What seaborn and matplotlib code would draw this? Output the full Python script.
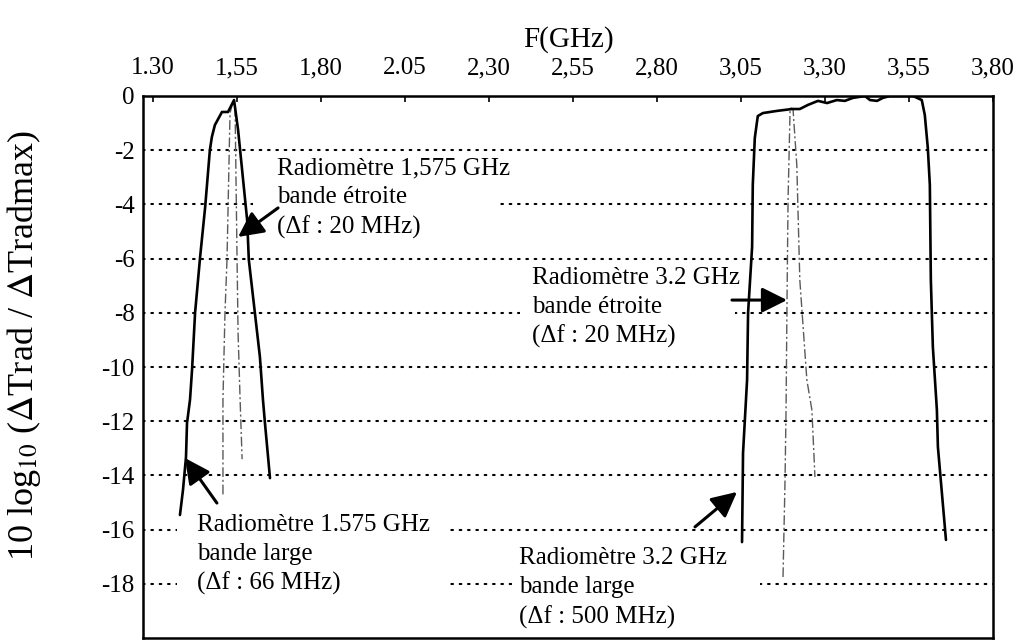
import matplotlib
matplotlib.use("Agg")
import matplotlib.pyplot as plt
from matplotlib.patches import Rectangle
import seaborn as sns

# Frequency axis (top) ticks and printed labels
freq_ticks = [1.30, 1.55, 1.80, 2.05, 2.30, 2.55, 2.80, 3.05, 3.30, 3.55, 3.80]
freq_tick_labels = ["1.30", "1,55", "1,80", "2.05", "2,30", "2,55",
                    "2,80", "3,05", "3,30", "3,55", "3,80"]

# Normalised level axis ticks (dB)
level_ticks = [0, -2, -4, -6, -8, -10, -12, -14, -16, -18, -20]
level_tick_labels = ["0", "-2", "-4", "-6", "-8", "-10", "-12", "-14", "-16", "-18", ""]

# 1.575 GHz radiometer, wide band (66 MHz)
l_wide_freq = [1.380, 1.389, 1.398, 1.401, 1.410, 1.416, 1.425, 1.440, 1.455, 1.469,
               1.475, 1.484, 1.505, 1.523, 1.541, 1.553, 1.568, 1.580, 1.585, 1.603,
               1.618, 1.627, 1.633, 1.648]
l_wide_db = [-15.46, -14.54, -13.32, -12.07, -11.2, -10.1, -8.0, -5.94, -4.1, -2.0,
             -1.51, -1.07, -0.59, -0.59, -0.15, -1.25, -3.1, -4.58, -6.05, -8.0,
             -9.63, -11.2, -12.07, -14.1]

# 1.575 GHz radiometer, narrow band (20 MHz)
l_narrow_freq = [1.508, 1.508, 1.514, 1.520, 1.529, 1.538, 1.544, 1.550, 1.553, 1.559, 1.565]
l_narrow_db = [-14.7, -11.2, -8.0, -6.05, -0.63, -0.2, -0.41, -6.05, -8.75, -11.2, -13.4]

# 3.2 GHz radiometer, wide band (500 MHz)
s_wide_freq = [3.053, 3.056, 3.068, 3.071, 3.083, 3.085, 3.091, 3.097, 3.100, 3.115,
               3.157, 3.202, 3.225, 3.249, 3.279, 3.306, 3.335, 3.359, 3.383, 3.419,
               3.434, 3.455, 3.472, 3.493, 3.562, 3.588, 3.597, 3.606, 3.612, 3.615,
               3.621, 3.633, 3.636, 3.660]
s_wide_db = [-16.46, -13.17, -10.48, -8.0, -5.57, -3.28, -1.55, -1.0, -0.74, -0.63,
             -0.55, -0.48, -0.48, -0.33, -0.18, -0.26, -0.15, -0.18, -0.07, 0.0,
             -0.15, -0.18, -0.07, 0.0, 0.0, -0.15, -0.70, -1.92, -3.28, -6.79,
             -9.26, -11.59, -12.95, -16.38]

# 3.2 GHz radiometer, narrow band (20 MHz)
s_narrow_freq = [3.175, 3.181, 3.184, 3.187, 3.190, 3.196, 3.199, 3.205, 3.216, 3.225,
                 3.246, 3.261, 3.270]
s_narrow_db = [-17.75, -14.17, -11.59, -7.42, -3.84, -0.52, -0.44, -0.52, -2.55, -6.79,
               -10.48, -11.59, -14.06]

sns.set_theme(style="white")
plt.rcParams["font.family"] = ["Liberation Serif", "DejaVu Serif"]
plt.rcParams["mathtext.fontset"] = "stix"

W, H = 1033, 642
fig = plt.figure(figsize=(W / 100, H / 100), dpi=100)
ax = fig.add_axes([143 / W, 1 - 638 / H, 850 / W, 542 / H])

ax.set_xlim(1.27, 3.80)
ax.set_ylim(-20, 0)

# dotted horizontal grid
for lv in level_ticks[1:-1]:
    ax.axhline(lv, color="black", lw=1.5, linestyle=(0, (0.8, 3.2)),
               dash_capstyle="round", zorder=0.5)

# white areas behind the annotation blocks
for (x0, x1, y0, y1) in [(1.597, 2.324, -5.3, -2.3),
                         (2.392, 3.032, -9.0, -7.0),
                         (1.371, 2.172, -19.5, -15.5),
                         (2.368, 3.106, -19.5, -17.0)]:
    ax.add_patch(Rectangle((x0, y0), x1 - x0, y1 - y0, facecolor="white",
                           edgecolor="none", zorder=1))

wide_kw = dict(color="black", lw=1.9, sort=False, estimator=None, ax=ax, zorder=3)
narrow_kw = dict(color="#5a5a5a", lw=1.0, sort=False, estimator=None, ax=ax, zorder=2,
                 linestyle=(0, (7, 2, 1.5, 2)))

sns.lineplot(x=l_wide_freq, y=l_wide_db, **wide_kw)
sns.lineplot(x=l_narrow_freq, y=l_narrow_db, **narrow_kw)
sns.lineplot(x=s_wide_freq, y=s_wide_db, **wide_kw)
sns.lineplot(x=s_narrow_freq, y=s_narrow_db, **narrow_kw)

# axes decoration
ax.xaxis.tick_top()
ax.xaxis.set_label_position("top")
ax.set_xticks(freq_ticks)
ax.set_xticklabels(freq_tick_labels)
ax.set_yticks(level_ticks)
ax.set_yticklabels(level_tick_labels)
ax.tick_params(axis="both", direction="in", length=4, width=1.2, color="black",
               labelsize=18, labelcolor="black", pad=6)
ax.tick_params(axis="x", pad=12)
ax.set_xlabel("F(GHz)", fontsize=21, color="black", labelpad=8)
ax.set_ylabel(r"10 log$_{10}$ ($\Delta$Trad / $\Delta$Tradmax)", fontsize=26,
              color="black")
ax.yaxis.set_label_coords(-0.118, 0.54)
for sp in ax.spines.values():
    sp.set_visible(True)
    sp.set_color("black")
    sp.set_linewidth(1.8)

# multi-line notes, anchored on the baseline of their last line
txt_kw = dict(fontsize=18, ha="left", va="baseline", color="black", zorder=4,
              linespacing=1.4)
ax.text(1.669, -5.06, "Radiomètre 1,575 GHz\nbande étroite\n(Δf : 20 MHz)", **txt_kw)
ax.text(2.428, -9.11, "Radiomètre 3.2 GHz\nbande étroite\n(Δf : 20 MHz)", **txt_kw)
ax.text(1.431, -18.23, "Radiomètre 1.575 GHz\nbande large\n(Δf : 66 MHz)", **txt_kw)
ax.text(2.389, -19.45, "Radiomètre 3.2 GHz\nbande large\n(Δf : 500 MHz)", **txt_kw)

arrow_kw = dict(arrowstyle="-|>,head_length=0.9,head_width=0.45", color="black",
                lw=2.2, shrinkA=0, shrinkB=0, mutation_scale=17)
for tip, tail in [((1.553, -5.20), (1.672, -4.13)),
                  ((1.395, -13.36), (1.490, -15.02)),
                  ((3.187, -7.53), (3.023, -7.53)),
                  ((3.038, -14.61), (2.913, -15.90))]:
    ax.annotate("", xy=tip, xytext=tail, arrowprops=arrow_kw, zorder=5)

fig.savefig("out.png", dpi=100, facecolor="white")
